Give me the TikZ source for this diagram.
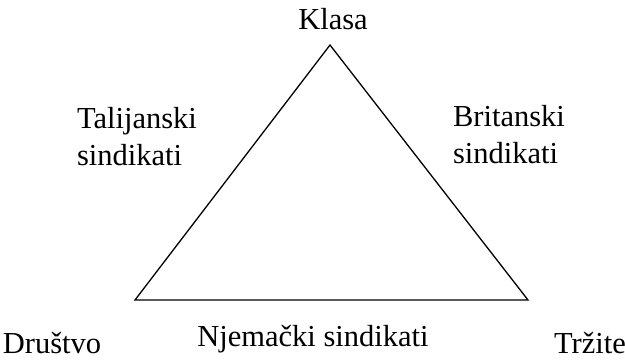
\documentclass[tikz,border=0pt]{standalone}
\usepackage{fontspec}
\setmainfont{Liberation Serif}
\begin{document}
\begin{tikzpicture}[x=1pt,y=-1pt,
	lbl/.style={inner sep=0pt,font=\fontsize{30.5}{37}\selectfont,align=left}]
			\useasboundingbox (0,0) rectangle (625,362);
			\coordinate (vrh) at (330,45);
			\coordinate (lijevo) at (135,300);
			\coordinate (desno) at (528,300);
			\draw[line width=1.3pt,line join=miter] (vrh) -- (desno) -- (lijevo) -- cycle;%trokut
			
			\node[lbl] (klasa) at (333,19) {Klasa};
			\node[lbl] (tal) at (137,137) {Talijanski\\sindikati};
			\node[lbl] (brit) at (509,135) {Britanski\\sindikati};
			\node[lbl] (drus) at (52,343) {Društvo};
			\node[lbl] (njem) at (313,339) {Njemački sindikati};
			\node[lbl] (trz) at (590,343) {Tržite};
			
		\end{tikzpicture}
\end{document}
